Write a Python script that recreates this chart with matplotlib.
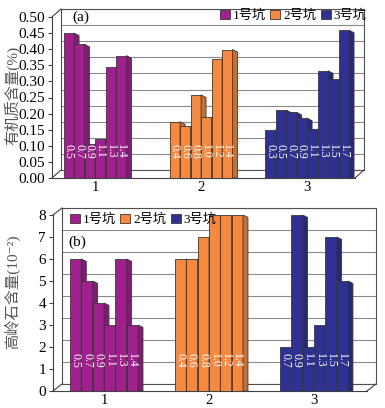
import matplotlib
matplotlib.use("Agg")
import numpy as np
import matplotlib.pyplot as plt
import matplotlib.colors as mcolors
from matplotlib.lines import Line2D
from matplotlib.patches import Patch

W, H = 385, 408

pits = ["1号坑", "2号坑", "3号坑"]
pit_colors = ["#A0208E", "#F4893F", "#2E3192"]
group_labels = ["1", "2", "3"]

# (a) organic matter content (%), per pit, by depth (m)
om_depths = [["0.5", "0.7", "0.9", "1.1", "1.3", "1.4"],
             ["0.4", "0.6", "0.8", "1.0", "1.2", "1.4"],
             ["0.3", "0.5", "0.7", "0.9", "1.1", "1.3", "1.5", "1.7"]]
om_values = [[0.45, 0.415, 0.105, 0.12, 0.345, 0.38],
             [0.175, 0.16, 0.258, 0.189, 0.371, 0.399],
             [0.15, 0.211, 0.204, 0.186, 0.152, 0.333, 0.307, 0.459]]

# (b) kaolinite content (10^-2)
kao_depths = [["0.5", "0.7", "0.9", "1.1", "1.3", "1.4"],
              ["0.4", "0.6", "0.8", "1.0", "1.2", "1.4"],
              ["0.7", "0.9", "1.1", "1.3", "1.5", "1.7"]]
kao_values = [[6, 5, 4, 3, 6, 3],
              [6, 6, 7, 8, 8, 8],
              [2, 8, 2, 3, 7, 5]]

plt.rcParams["font.family"] = ["Liberation Serif", "Noto Sans CJK SC", "DejaVu Sans"]

fig = plt.figure(figsize=(W / 100, H / 100), dpi=100)


def px_axes(x0, y0, x1, y1):
    return fig.add_axes([x0 / W, 1 - y1 / H, (x1 - x0) / W, (y1 - y0) / H])


def fig_line(xs, ys, color="#404040"):
    fig.add_artist(Line2D([x / W for x in xs], [1 - y / H for y in ys],
                          transform=fig.transFigure, color=color, lw=0.8))


def draw_panel(box, shift, xlim, ymax, step, width, values, depths, label_y,
               side, fmt):
    x0, y0, x1, y1 = box
    sx, sy = shift
    yt = np.arange(0, ymax + step / 2, step)

    # back wall with the gridlines
    back = px_axes(x0 + sx, y0 - sy, x1 + sx, y1 - sy)
    back.set_xlim(xlim)
    back.set_ylim(0, ymax)
    back.set_yticks(yt)
    back.set_xticks([])
    back.grid(axis="y", color="#8a8a8a", lw=0.8)
    back.tick_params(left=False, labelleft=False)
    for s in back.spines.values():
        s.set_color("#505050")
        s.set_linewidth(0.8)

    ax = px_axes(x0, y0, x1, y1)
    ax.patch.set_alpha(0)
    ax.set_xlim(xlim)
    ax.set_ylim(0, ymax)
    ax.set_yticks(yt)
    ax.set_yticklabels([fmt.format(v) for v in yt], fontsize=11)
    ax.set_xticks([1, 2, 3])
    ax.set_xticklabels(group_labels, fontsize=10.5)
    ax.tick_params(axis="x", length=0, pad=2)
    ax.tick_params(axis="y", length=3, width=0.8, color="#404040", pad=2)
    ax.spines["top"].set_visible(False)
    ax.spines["right"].set_visible(False)
    ax.spines["left"].set_color("#404040")
    ax.spines["bottom"].set_color("#404040")
    ax.spines["left"].set_linewidth(0.8)
    ax.spines["bottom"].set_linewidth(0.8)

    dx, dy = side
    z = 3
    for g in range(3):
        n = len(values[g])
        face = pit_colors[g]
        dark = np.array(mcolors.to_rgb(face)) * 0.82
        for i in range(n):
            h = values[g][i]
            xc = (g + 1) + (i - (n - 1) / 2) * width
            xr = xc + width / 2
            ax.bar(xc, h, width=width, color=face, edgecolor="#383838",
                   lw=0.6, zorder=z)
            ax.fill([xr, xr, xr + dx, xr + dx], [0, h, h - dy, 0],
                    color=dark, ec="#383838", lw=0.6, zorder=z + 1)
            ax.text(xc, label_y, depths[g][i], rotation=270, color="white",
                    fontsize=8.5, ha="center", va="center", zorder=50)
            z += 2

    # floor / corner edges between front and back
    fig_line([x0, x0 + sx], [y0, y0 - sy])
    fig_line([x0, x0 + sx], [y1, y1 - sy])
    fig_line([x1, x1 + sx], [y1, y1 - sy])
    return ax


ax_a = draw_panel((52, 17, 355, 178), (9, 8), (0.594, 3.452), 0.5, 0.05,
                  0.099, om_values, om_depths, 0.082, (0.047, 0.008),
                  "{:.2f}")
ax_b = draw_panel((53, 215, 367, 391), (9, 7), (0.514, 3.505), 8, 1,
                  0.108, kao_values, kao_depths, 1.4, (0.047, 0.11),
                  "{:.0f}")

handles = [Patch(facecolor=c, edgecolor="#383838", lw=0.6) for c in pit_colors]
leg_kw = dict(ncol=3, frameon=False, fontsize=9.5, handlelength=0.75,
              handleheight=0.75, handletextpad=0.25, columnspacing=0.3,
              borderaxespad=0, borderpad=0)
fig.legend(handles, pits, loc="center left",
           bbox_to_anchor=(220 / W, 1 - 16 / H), **leg_kw)
fig.legend(handles, pits, loc="center left",
           bbox_to_anchor=(70 / W, 1 - 220 / H), **leg_kw)

fig.text(72 / W, 1 - 17 / H, "(a)", fontsize=11, va="center")
fig.text(68 / W, 1 - 242 / H, "(b)", fontsize=11, va="center")

fig.text(12 / W, 1 - 95 / H, "有机质含量(%)", rotation=90, fontsize=11,
         color="#555555", ha="center", va="center")
fig.text(12 / W, 1 - 292 / H, "高岭石含量(10⁻²)", rotation=90,
         fontsize=11, color="#555555", ha="center", va="center")

fig.savefig("out.png", dpi=100)
